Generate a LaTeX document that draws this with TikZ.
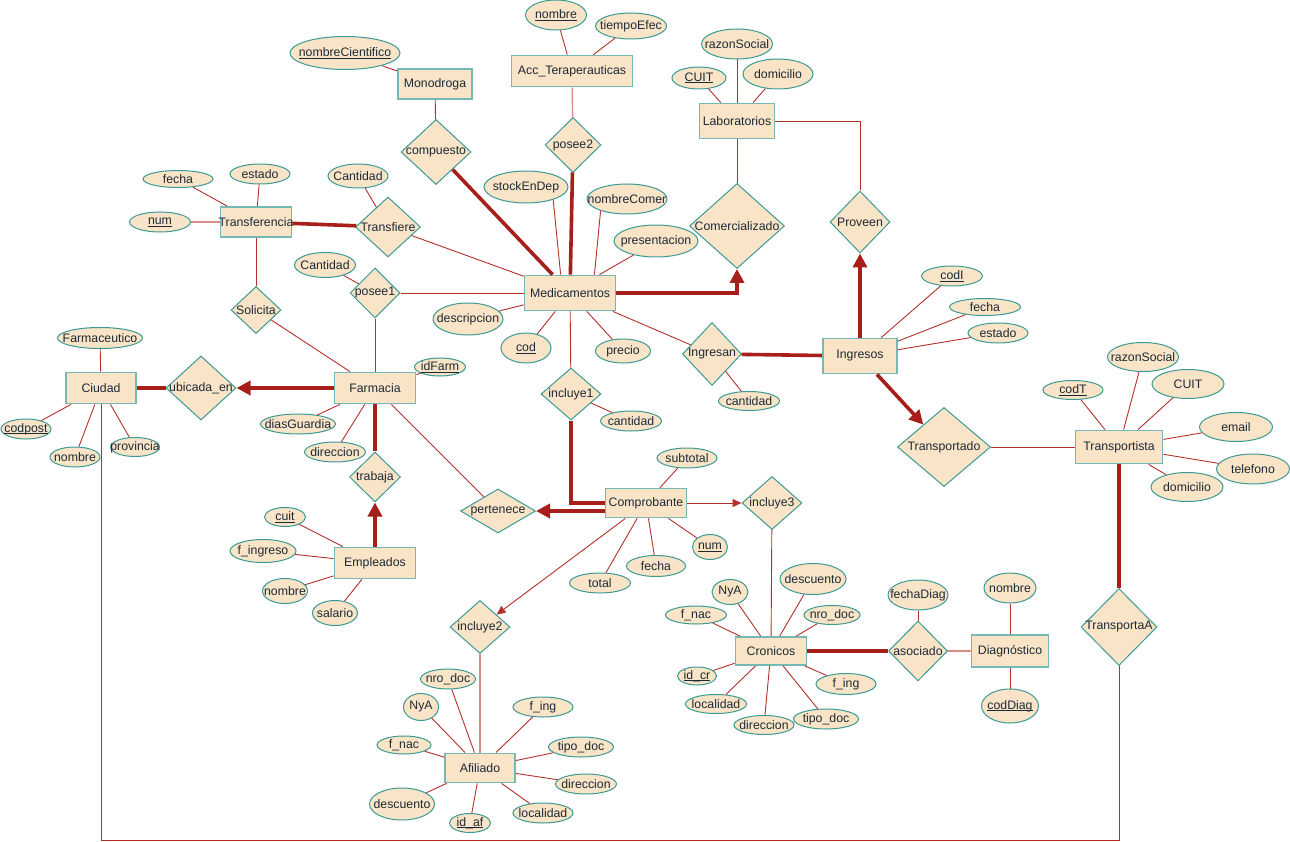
\documentclass[tikz,border=0pt]{standalone}
\usepackage{fontspec}
\setmainfont{Liberation Sans}
\usepackage{xcolor}
\usetikzlibrary{arrows.meta,shapes.geometric}
\definecolor{erfondo}{HTML}{F9E4C7}
\definecolor{erborde}{HTML}{3A9A94}
\definecolor{errojo}{HTML}{B3302B}
\definecolor{errojofuerte}{HTML}{A61F1A}
\definecolor{ertenue}{HTML}{D98C88}
\definecolor{ertexto}{HTML}{1C2A36}
\newcommand\cl[1]{\setbox0\hbox{#1}\rlap{\vrule width\wd0 height -1.2pt depth 2pt}\box0}

\tikzset{
  caja/.style={draw=erborde, fill=erfondo, inner sep=0pt, text=ertexto,
    font=\fontsize{12.3}{14}\selectfont,
    execute at begin node={\hbox to 0pt\bgroup\hss},
    execute at end node={\hss\egroup}},
  entidad/.style={caja, rectangle, line width=1.8pt, draw=erborde!70},
  relacion/.style={caja, diamond, line width=1pt},
  atributo/.style={caja, ellipse, line width=1pt},
  tam/.style 2 args={minimum width=#1, minimum height=#2},
  linea/.style={draw=errojo, line width=0.9pt},
  tenue/.style={draw=ertenue, line width=1.4pt},
  gruesa/.style={draw=errojofuerte, line width=3.6pt},
  flecha/.style={-{Triangle[length=14pt,width=14pt]}},
  flechita/.style={-{Triangle[length=9pt,width=8pt]}},
}

\begin{document}
\begin{tikzpicture}[x=1pt, y=-1pt]
  \useasboundingbox (0,0) rectangle (1290,842);

  \node[entidad, tam={74}{30}] (monodroga) at (435,84) {Monodroga};
  \node[entidad, tam={121}{31}] (acc) at (572,71) {Acc\_Teraperauticas};
  \node[entidad, tam={75}{35}] (lab) at (737,121) {Laboratorios};
  \node[entidad, tam={71}{30}] (transf) at (256,222) {Transferencia};
  \node[entidad, tam={91}{35}] (med) at (570,293) {Medicamentos};
  \node[entidad, tam={74}{35}] (ingr) at (860,356) {Ingresos};
  \node[entidad, tam={70}{31}] (ciudad) at (101,388) {Ciudad};
  \node[entidad, tam={81}{31}] (farm) at (375,388) {Farmacia};
  \node[entidad, tam={87}{33}] (transp) at (1119,447) {Transportista};
  \node[entidad, tam={81}{29}] (compr) at (646,503) {Comprobante};
  \node[entidad, tam={81}{31}] (empl) at (375,563) {Empleados};
  \node[entidad, tam={71}{28}] (cron) at (771,651) {Cronicos};
  \node[entidad, tam={77}{32}] (diag) at (1010,651) {Diagnóstico};
  \node[entidad, tam={70}{29}] (afil) at (480,768) {Afiliado};

  \node[relacion, tam={70}{65}] (compuesto) at (436,152) {compuesto};
  \node[relacion, tam={56}{55}] (posee2) at (573,145) {posee2};
  \node[relacion, tam={65}{60}] (transfiere) at (388,227) {Transfiere};
  \node[relacion, tam={95}{85}] (comerc) at (737,226) {Comercializado};
  \node[relacion, tam={60}{62}] (proveen) at (860,222) {Proveen};
  \node[relacion, tam={50}{47}] (solicita) at (256,310) {Solicita};
  \node[relacion, tam={50}{50}] (posee1) at (375,293) {posee1};
  \node[relacion, tam={59}{63}] (ingresan) at (712,354) {Ingresan};
  \node[relacion, tam={70}{64}] (ubicada) at (201,388) {ubicada\_en};
  \node[relacion, tam={60}{52}] (incl1) at (571,394) {incluye1};
  \node[relacion, tam={51}{50}] (trabaja) at (375,477) {trabaja};
  \node[relacion, tam={93}{79}] (transportado) at (944,447) {Transportado};
  \node[relacion, tam={75}{44}] (pertenece) at (498,511) {pertenece};
  \node[relacion, tam={60}{53}] (incl3) at (772,503) {incluye3};
  \node[relacion, tam={60}{53}] (incl2) at (480,627) {incluye2};
  \node[relacion, tam={59}{60}] (asociado) at (918,651) {asociado};
  \node[relacion, tam={76}{77}] (transportaA) at (1119,627) {TransportaA};

  \node[atributo, tam={110}{33}] (nomCient) at (345,53) {\cl{nombreCientifico}};
  \node[atributo, tam={61}{30}] (nomAcc) at (556,15) {\cl{nombre}};
  \node[atributo, tam={71}{26}] (tiempoEfec) at (631,26) {tiempoEfec};
  \node[atributo, tam={71}{30}] (razonLab) at (737,44) {razonSocial};
  \node[atributo, tam={54}{22}] (cuitLab) at (699,78) {\cl{CUIT}};
  \node[atributo, tam={70}{30}] (domLab) at (778,74) {domicilio};
  \node[atributo, tam={70}{17}] (fechaTr) at (178,179) {fecha};
  \node[atributo, tam={60}{20}] (estadoTr) at (260,174) {estado};
  \node[atributo, tam={61}{20}] (numTr) at (160,222) {\cl{num}};
  \node[atributo, tam={60}{24}] (cantTr) at (358,176) {Cantidad};
  \node[atributo, tam={61}{25}] (cantPo) at (325,265) {Cantidad};
  \node[atributo, tam={84}{32}] (stock) at (526,187) {stockEnDep};
  \node[atributo, tam={80}{30}] (nomCom) at (627,199) {nombreComer};
  \node[atributo, tam={84}{32}] (present) at (656,241) {presentacion};
  \node[atributo, tam={70}{32}] (descr) at (468,319) {descripcion};
  \node[atributo, tam={50}{30}] (cod) at (526,348) {\cl{cod}};
  \node[atributo, tam={55}{24}] (precio) at (623,351) {precio};
  \node[atributo, tam={61}{19}] (cantIng) at (749,401) {cantidad};
  \node[atributo, tam={61}{20}] (codI) at (952,276) {\cl{codI}};
  \node[atributo, tam={71}{17}] (fechaIng) at (985,307) {fecha};
  \node[atributo, tam={60}{20}] (estadoIng) at (998,333) {estado};
  \node[atributo, tam={85}{21}] (farmaceutico) at (100,338) {Farmaceutico};
  \node[atributo, tam={50}{20}] (codpost) at (26,429) {\cl{codpost}};
  \node[atributo, tam={50}{20}] (nomCiu) at (75,457) {nombre};
  \node[atributo, tam={49}{19}] (provincia) at (135,447) {provincia};
  \node[atributo, tam={51}{18}] (idFarm) at (440,367) {\cl{idFarm}};
  \node[atributo, tam={75}{20}] (diasGuardia) at (298,424) {diasGuardia};
  \node[atributo, tam={61}{20}] (dirFarm) at (335,452) {direccion};
  \node[atributo, tam={61}{20}] (cantIn1) at (631,421) {cantidad};
  \node[atributo, tam={60}{19}] (codT) at (1073,390) {\cl{codT}};
  \node[atributo, tam={71}{29}] (razonTr) at (1143,357) {razonSocial};
  \node[atributo, tam={72}{29}] (cuitTr) at (1188,384) {CUIT};
  \node[atributo, tam={73}{29}] (email) at (1236,427) {email};
  \node[atributo, tam={73}{30}] (telefono) at (1253,469) {telefono};
  \node[atributo, tam={72}{29}] (domTr) at (1187,487) {domicilio};
  \node[atributo, tam={60}{20}] (subtotal) at (687,458) {subtotal};
  \node[atributo, tam={35}{25}] (numCo) at (710,547) {\cl{num}};
  \node[atributo, tam={61}{20}] (total) at (600,583) {total};
  \node[atributo, tam={59}{21}] (fechaCo) at (656,566) {fecha};
  \node[atributo, tam={41}{19}] (cuitEm) at (285,517) {\cl{cuit}};
  \node[atributo, tam={66}{23}] (fIngreso) at (263,551) {f\_ingreso};
  \node[atributo, tam={45}{25}] (nomEm) at (285,591) {nombre};
  \node[atributo, tam={45}{25}] (salario) at (335,613) {salario};
  \node[atributo, tam={36}{25}] (nyaCr) at (730,592) {NyA};
  \node[atributo, tam={66}{31}] (descCr) at (813,579) {descuento};
  \node[atributo, tam={61}{18}] (fNacCr) at (696,615) {f\_nac};
  \node[atributo, tam={56}{19}] (nroCr) at (832,615) {nro\_doc};
  \node[atributo, tam={39}{18}] (idCr) at (697,676) {\cl{id\_cr}};
  \node[atributo, tam={60}{21}] (fIngCr) at (846,684) {f\_ing};
  \node[atributo, tam={61}{19}] (locCr) at (716,704) {localidad};
  \node[atributo, tam={60}{19}] (dirCr) at (764,725) {direccion};
  \node[atributo, tam={65}{20}] (tipoCr) at (826,719) {tipo\_doc};
  \node[atributo, tam={60}{30}] (fechaDiag) at (918,595) {fechaDiag};
  \node[atributo, tam={52}{30}] (nomDiag) at (1010,588) {nombre};
  \node[atributo, tam={57}{34}] (codDiag) at (1010,706) {\cl{codDiag}};
  \node[atributo, tam={55}{20}] (nroAf) at (448,679) {nro\_doc};
  \node[atributo, tam={35}{27}] (nyaAf) at (421,707) {NyA};
  \node[atributo, tam={60}{20}] (fIngAf) at (543,707) {f\_ing};
  \node[atributo, tam={54}{18}] (fNacAf) at (404,745) {f\_nac};
  \node[atributo, tam={65}{20}] (tipoAf) at (581,747) {tipo\_doc};
  \node[atributo, tam={61}{20}] (dirAf) at (586,784) {direccion};
  \node[atributo, tam={65}{32}] (descAf) at (402,804) {descuento};
  \node[atributo, tam={41}{19}] (idAf) at (470,823) {\cl{id\_af}};
  \node[atributo, tam={60}{20}] (locAf) at (543,813) {localidad};

  \coordinate (esqDer) at (1119,840);
  \coordinate (esqIzq) at (101,840);

  \foreach \a/\b in {monodroga/nomCient, monodroga/compuesto, acc/nomAcc, acc/tiempoEfec,
      lab/razonLab, lab/cuitLab, lab/domLab, lab/comerc, transf/fechaTr, transf/estadoTr,
      transf/solicita, transfiere/cantTr, transfiere/med, posee1/cantPo, posee1/med,
      posee1/farm, solicita/farm, med/descr, med/cod, med/precio, med/incl1, med/ingresan,
      ingresan/cantIng, incl1/cantIn1, ingr/codI, ingr/fechaIng, ingr/estadoIng,
      ciudad/farmaceutico, ciudad/codpost, ciudad/nomCiu, ciudad/provincia, farm/idFarm,
      farm/diasGuardia, farm/dirFarm, farm/pertenece, empl/cuitEm, empl/fIngreso,
      empl/nomEm, empl/salario, transportado/transp, transp/codT, transp/razonTr,
      transp/cuitTr, transp/email, transp/telefono, transp/domTr, compr/subtotal,
      compr/numCo, compr/total, compr/fechaCo, incl3/cron, cron/nyaCr, cron/descCr,
      cron/fNacCr, cron/nroCr, cron/idCr, cron/fIngCr, cron/locCr, cron/dirCr, cron/tipoCr,
      asociado/fechaDiag, diag/nomDiag, diag/codDiag, afil/nroAf, afil/nyaAf, afil/fIngAf,
      afil/fNacAf, afil/tipoAf, afil/dirAf, afil/descAf, afil/idAf, afil/locAf}
    \draw[linea] (\a) -- (\b);
  \draw[linea] (stock.-25) -- (med.117);
  \draw[linea] (nomCom.-156) -- (med.37);
  \draw[linea] (present.-148) -- (med.32);
  \draw[linea] (lab.east) -| (proveen.north);
  \draw[linea] (transportaA) -- (esqDer) -- (esqIzq) -- (ciudad);

  \foreach \a/\b in {acc/posee2, incl2/afil, transf/numTr, asociado/diag}
    \draw[tenue] (\a) -- (\b);

  \foreach \a/\b in {compuesto/med, posee2/med, transf/transfiere, ingresan/ingr,
      ciudad/ubicada, farm/trabaja, cron/asociado, transp/transportaA}
    \draw[gruesa] (\a) -- (\b);
  \draw[gruesa] (incl1) |- (compr.west);

  \foreach \a/\b in {farm/ubicada, empl/trabaja, ingr/proveen, ingr/transportado}
    \draw[gruesa, flecha] (\a) -- (\b);
  \draw[gruesa, flecha] (med.east) -| (comerc.south);
  \draw[gruesa, flecha] (compr.west |- pertenece.east) -- (pertenece.east);

  \draw[linea, flechita] (compr) -- (incl3);
  \draw[linea, flechita] (compr) -- (incl2);
\end{tikzpicture}
\end{document}
